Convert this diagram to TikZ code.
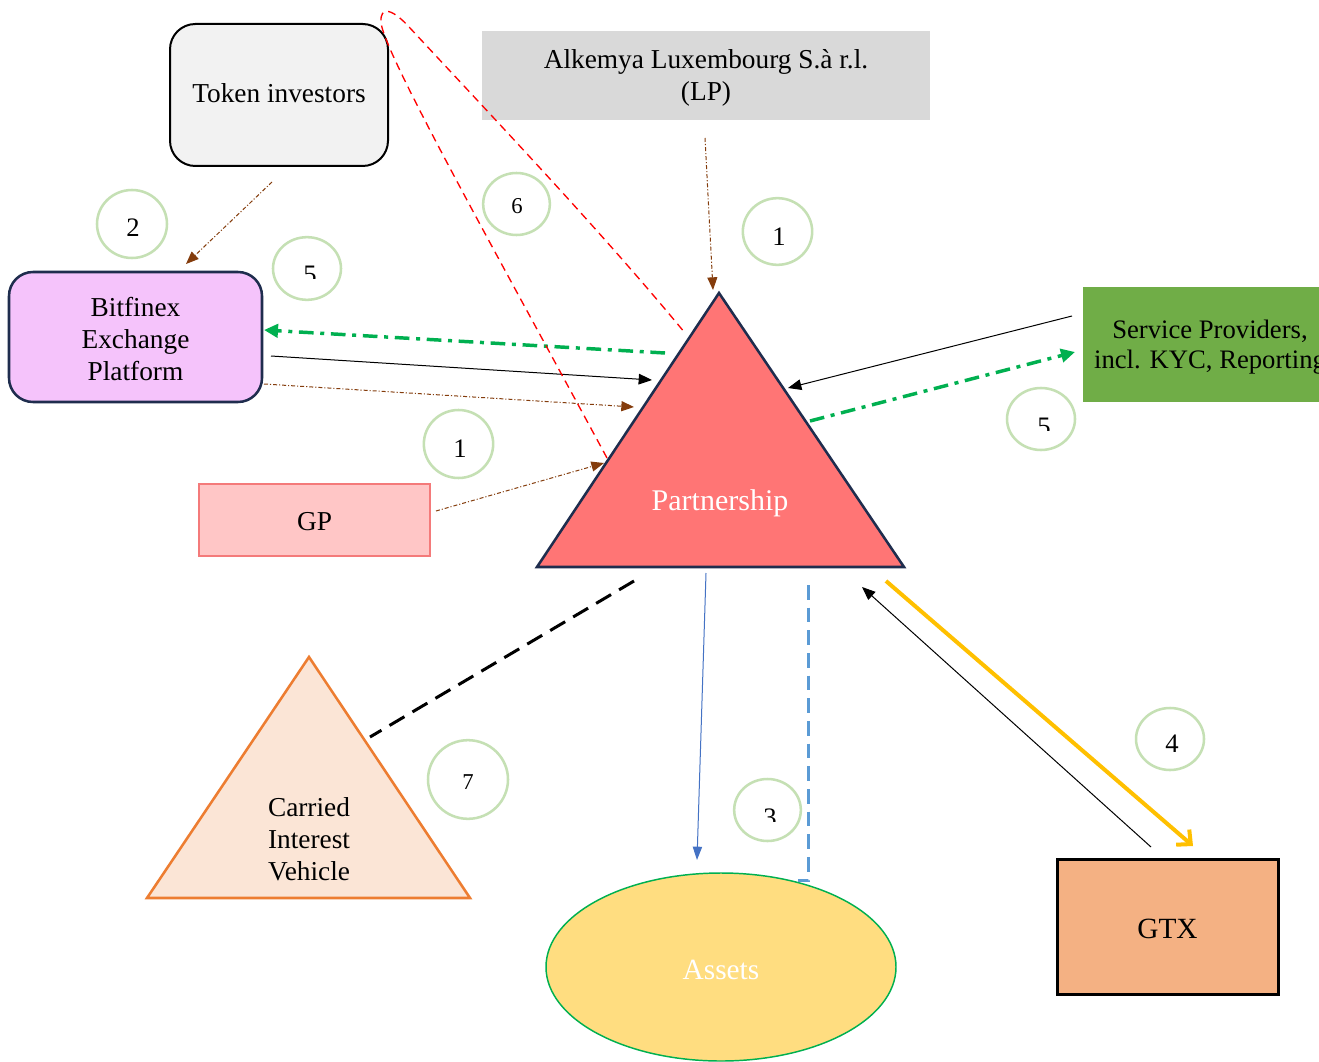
\documentclass[tikz,border=0pt]{standalone}
\usepackage{fontspec}
\setmainfont{Liberation Serif}
\usetikzlibrary{arrows.meta,shapes.geometric}
\definecolor{brownc}{HTML}{843C0C}
\definecolor{greenc}{HTML}{00B050}
\definecolor{circc}{HTML}{C5E0B4}
\definecolor{navyc}{HTML}{1F2D4E}
\definecolor{tokfill}{HTML}{F2F2F2}
\definecolor{lpfill}{HTML}{D9D9D9}
\definecolor{bffill}{HTML}{F5C3FB}
\definecolor{gpfill}{HTML}{FFC6C6}
\definecolor{gpdraw}{HTML}{F47A7A}
\definecolor{spfill}{HTML}{70AD47}
\definecolor{gtxfill}{HTML}{F4B183}
\definecolor{assfill}{HTML}{FFDD80}
\definecolor{partfill}{HTML}{FF7575}
\definecolor{civfill}{HTML}{FBE5D6}
\definecolor{civdraw}{HTML}{ED7D31}
\definecolor{bluec}{HTML}{4472C4}
\definecolor{ltbluec}{HTML}{5B9BD5}
\definecolor{yellowc}{HTML}{FFC000}
\begin{document}
\begin{tikzpicture}[x=0.75pt,y=-0.75pt,
  txt/.style={font=\fontsize{20.5}{24}\selectfont, align=center, inner sep=0pt},
  numcirc/.style={ellipse, draw=circc, line width=1.9pt, inner sep=0pt},
  numtxt/.style={font=\fontsize{20}{22}\selectfont, anchor=base, inner sep=0pt},
  brownarr/.style={draw=brownc, line width=0.75pt, dash pattern=on 3pt off 1.5pt on 0.8pt off 1.5pt, -{Triangle[length=9.5pt,width=7.5pt]}, brownc},
  blackarr/.style={draw=black, line width=0.75pt, -{Triangle[length=10pt,width=8pt]}},
  greenarr/.style={draw=greenc, line width=2.6pt, dash pattern=on 11pt off 5pt on 3pt off 5pt, -{Triangle[length=10.5pt,width=10pt]}, greenc},
]
\clip (0,0) rectangle (1319,1062);
\fill[white] (0,0) rectangle (1319,1062);

% Partnership triangle
\filldraw[fill=partfill, draw=navyc, line width=1.9pt, line join=miter] (719,293) -- (904,567) -- (537,567) -- cycle;
\node[txt, text=white, font=\fontsize{22.5}{26}\selectfont] (part) at (720,503) {Partnership};

% Carried interest vehicle triangle
\filldraw[fill=civfill, draw=civdraw, line width=1.9pt] (309,657) -- (470,898) -- (147,898) -- cycle;
\node[txt] (civ) at (309,839) {Carried\\Interest\\Vehicle};

% Boxes
\node[txt, draw=black, fill=tokfill, line width=1.5pt, rounded corners=19pt, minimum width=163.5pt, minimum height=106.5pt] (token) at (279,95) {};
\node[txt] (tokentxt) at (279,93) {Token investors};
\node[txt, fill=lpfill, minimum width=336pt, minimum height=66.75pt] (lp) at (706,75.5) {};
\node[txt] (lptxt) at (706,77.5) {Alkemya Luxembourg S.à r.l.\\(LP)};
\node[txt, draw=navyc, fill=bffill, line width=1.9pt, rounded corners=18pt, minimum width=189.75pt, minimum height=97.5pt] (bf) at (135.5,337) {};
\node[txt] (bftxt) at (135.5,339) {Bitfinex\\Exchange\\Platform};
\node[txt, draw=gpdraw, fill=gpfill, line width=1.5pt, minimum width=173.25pt, minimum height=54pt] (gp) at (314.5,520) {};
\node[txt] (gptxt) at (314.5,522) {GP};
\node[txt, fill=spfill, minimum width=193.5pt, minimum height=86.25pt] (sp) at (1212,344.5) {};
\node[txt, font=\fontsize{20}{22.5}\selectfont] (sptxt) at (1210,347) {Service Providers,\\incl. KYC, Reporting};
\node[txt, draw=black, fill=gtxfill, line width=2.25pt, minimum width=165.75pt, minimum height=101.25pt] (gtx) at (1167.5,926.5) {};
\node[txt, font=\fontsize{22}{26}\selectfont] (gtxtxt) at (1167.5,929) {GTX};
\node[txt, ellipse, draw=greenc, fill=assfill, line width=1.1pt, minimum width=262.5pt, minimum height=141pt] (assets) at (721,967) {};
\node[txt, text=white, font=\fontsize{22}{26}\selectfont] (asstxt) at (721,970) {Assets};

% Numbered circles
\node[numcirc, minimum width=52.5pt, minimum height=51pt] (c2) at (132,224) {};
\node[numcirc, minimum width=51pt, minimum height=47pt] (c5a) at (307,268.5) {};
\node[numcirc, minimum width=50pt, minimum height=46.5pt] (c6) at (516.5,204) {};
\node[numcirc, minimum width=52pt, minimum height=50pt] (c1a) at (777.5,231.5) {};
\node[numcirc, minimum width=52pt, minimum height=51pt] (c1b) at (458.5,444) {};
\node[numcirc, minimum width=51pt, minimum height=46.5pt] (c5b) at (1041,419) {};
\node[numcirc, minimum width=60pt, minimum height=59pt] (c7) at (468,779.5) {};
\node[numcirc, minimum width=50pt, minimum height=46.5pt] (c3) at (767.5,810) {};
\node[numcirc, minimum width=51pt, minimum height=46.5pt] (c4) at (1170,739) {};

\node[numtxt] (n2) at (133,237) {2};
\node[numtxt, font=\fontsize{17}{20}\selectfont] (n6) at (517,214) {6};
\node[numtxt] (n1a) at (779,246) {1};
\node[numtxt] (n1b) at (460,457) {1};
\node[numtxt, font=\fontsize{17}{20}\selectfont] (n7) at (468,789) {7};
\node[numtxt] (n4) at (1172,752) {4};
\begin{scope}
\clip (280,250) rectangle (340,279);
\node[numtxt] (n5a) at (310,284) {5};
\end{scope}
\begin{scope}
\clip (1015,400) rectangle (1070,430);
\node[numtxt] (n5b) at (1044,435) {5};
\end{scope}
\begin{scope}
\clip (740,790) rectangle (800,821);
\node[numtxt] (n3) at (770,826) {3};
\end{scope}

% Connector end points
\coordinate (tiS) at (272,182); \coordinate (bfT) at (186,264);
\coordinate (lpS) at (705,138); \coordinate (paA) at (713,290);
\coordinate (bfS1) at (271,356); \coordinate (paL1) at (652,380);
\coordinate (bfS2) at (264,384); \coordinate (paL2) at (634,407);
\coordinate (gpS) at (436,511); \coordinate (paL3) at (604,463);
\coordinate (paG1) at (665,353); \coordinate (bfE) at (264,330);
\coordinate (spS) at (1072,316); \coordinate (paR1) at (788,388);
\coordinate (paG2) at (810,421); \coordinate (spE) at (1075,352);
\coordinate (paB1) at (634,581); \coordinate (civE) at (370,737);
\coordinate (paB2) at (706,573); \coordinate (asT) at (697,860);
\coordinate (paB3) at (808,585); \coordinate (asC) at (808,880); \coordinate (asE) at (798,880);
\coordinate (gtxS) at (1151,847); \coordinate (paR2) at (862,587);
\coordinate (paR3) at (886,581); \coordinate (gtxE) at (1193,846);
\coordinate (loopA) at (607,458); \coordinate (loopB) at (685,333);

% Connectors
\draw[brownarr] (tiS) -- (bfT);
\draw[brownarr] (lpS) -- (paA);
\draw[blackarr] (bfS1) -- (paL1);
\draw[brownarr] (bfS2) -- (paL2);
\draw[brownarr] (gpS) -- (paL3);
\draw[greenarr] (paG1) -- (bfE);
\draw[blackarr] (spS) -- (paR1);
\draw[greenarr] (paG2) -- (spE);
\draw[black, line width=2.25pt, dash pattern=on 13pt off 7pt] (paB1) -- (civE);
\draw[bluec, line width=0.75pt, -{Triangle[length=10pt,width=7pt]}] (paB2) -- (asT);
\draw[ltbluec, line width=2.25pt, dash pattern=on 11pt off 6pt] (paB3) -- (asC) -- (asE);
\draw[blackarr] (gtxS) -- (paR2);
\draw[yellowc, line width=3pt, -{Straight Barb[length=8pt,width=15pt]}] (paR3) -- (gtxE);
\draw[red, line width=1pt, dash pattern=on 6pt off 4pt] (loopA) .. controls (500,260) and (382,50) .. (381,22) .. controls (380,6) and (392,8) .. (410,28) .. controls (500,125) and (600,230) .. (loopB);
\end{tikzpicture}
\end{document}
